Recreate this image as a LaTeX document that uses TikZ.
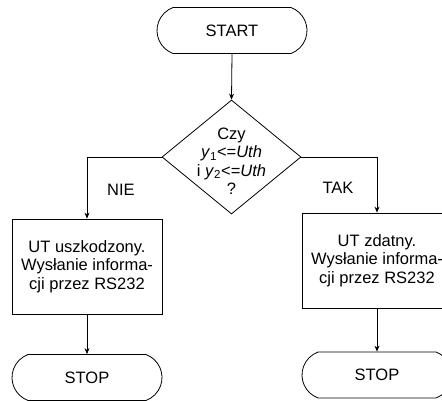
\documentclass[tikz,border=0pt]{standalone}
\usepackage{fontspec}
\setmainfont{Liberation Sans}
\usetikzlibrary{shapes.geometric,shapes.misc,arrows.meta}
\begin{document}
\begin{tikzpicture}[x=1pt,y=-1pt,
  font=\fontsize{16.5}{18.5}\selectfont,
  line width=0.8pt,
  terminal/.style={draw, rounded rectangle, rounded rectangle arc length=140,
    minimum width=150pt, minimum height=46pt, inner sep=0pt},
  procbox/.style={draw, rectangle, minimum width=150pt, minimum height=95pt,
    inner sep=0pt, align=center},
  decision/.style={draw, diamond, minimum width=139pt, minimum height=114pt, inner sep=0pt},
  flow/.style={-{Stealth[length=6pt,width=5pt]}}]
\clip (0,0) rectangle (442,400);
\useasboundingbox (0,0) rectangle (442,400);

% start terminal and decision
\node[terminal] (start) at (232,30.5) {START};
\node[decision] (dec) at (231.5,157) {};
\node[align=center, inner sep=0pt] (dectext) at (231.5,161)
  {Czy\\ \textit{y}\textsubscript{1}<=\textit{Uth}\\ i \textit{y}\textsubscript{2}<=\textit{Uth}\\ ?};

% outcome boxes
\node[procbox] (fail) at (87,266.5) {UT uszkodzony.\\Wysłanie informa-\\cji przez RS232};
\node[procbox] (ok) at (377,260.5) {UT zdatny.\\Wysłanie informa-\\cji przez RS232};

% stop terminals
\node[terminal] (stopL) at (87,377.5) {STOP};
\node[terminal] (stopR) at (377,375) {STOP};

% connectors
\draw[flow] (start.south) -- (dec.north);
\draw[flow] (dec.west) -| (fail.north);
\draw[flow] (dec.east) -| (ok.north);
\draw[flow] (fail.south) -- (stopL.north);
\draw[flow] (ok.south) -- (stopR.north);

% branch labels
\node (nie) at (121,190) {NIE};
\node (tak) at (338,188) {TAK};
\end{tikzpicture}
\end{document}
